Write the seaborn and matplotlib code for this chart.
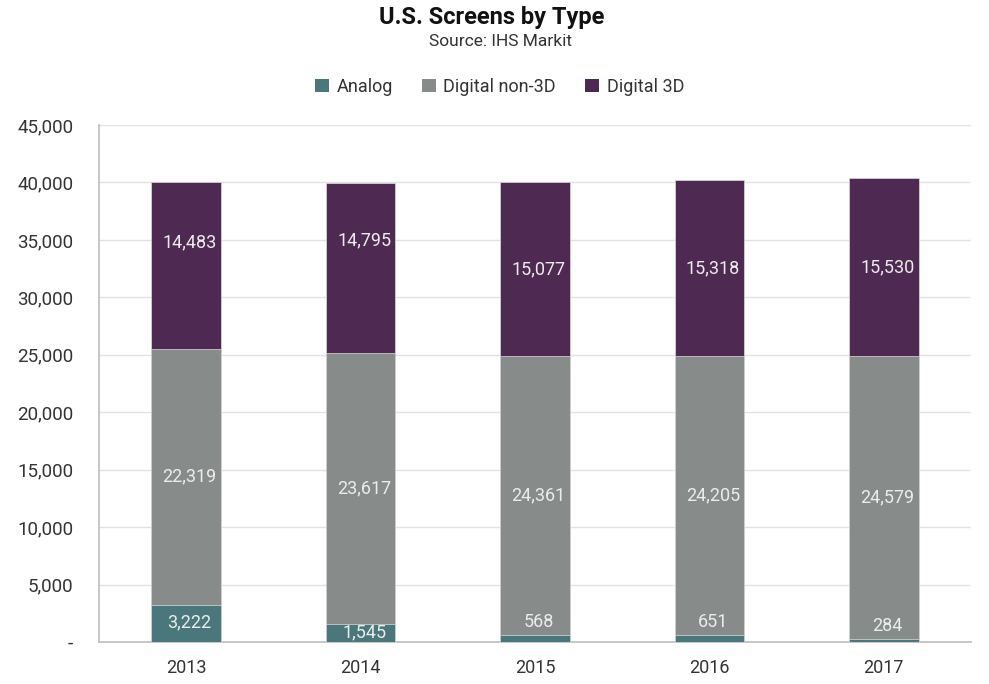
import matplotlib
matplotlib.use("Agg")
import matplotlib.pyplot as plt
import seaborn as sns
import pandas as pd
import numpy as np
from matplotlib.ticker import FuncFormatter, FixedLocator
from matplotlib.patches import Patch

years = ["2013", "2014", "2015", "2016", "2017"]
analog = [3222, 1545, 568, 651, 284]
digital_non3d = [22319, 23617, 24361, 24205, 24579]
digital_3d = [14483, 14795, 15077, 15318, 15530]
series_names = ["Analog", "Digital non-3D", "Digital 3D"]
colors = ["#4A777B", "#878C8B", "#4E2A52"]

sns.set_theme(style="white")
plt.rcParams["font.family"] = ["Roboto", "DejaVu Sans"]

df = pd.DataFrame({
    "year": years,
    "analog": analog,
    "non3d": digital_non3d,
    "d3": digital_3d,
})
df["cum1"] = df["analog"]
df["cum2"] = df["analog"] + df["non3d"]
df["cum3"] = df["cum2"] + df["d3"]

fig = plt.figure(figsize=(9.89, 6.84), dpi=100)
ax = fig.add_axes([0.1001, 0.0614, 0.8817, 0.7559])

for col, c in zip(["cum3", "cum2", "cum1"], colors[::-1]):
    sns.barplot(data=df, x="year", y=col, color=c, width=0.4, ax=ax,
                edgecolor="#dcdcdc", linewidth=0.5, saturation=1, zorder=3)

ax.set_xlim(-0.5, 4.5)
ax.set_ylim(0, 45000)
ax.set_yticks(np.arange(0, 45001, 5000))
ax.yaxis.set_major_formatter(FuncFormatter(lambda v, p: "-" if v == 0 else f"{int(v):,}"))
ax.grid(axis="y", color="#e2e2e2", linewidth=1, zorder=0)
ax.set_axisbelow(True)
ax.set_xlabel("")
ax.set_ylabel("")
for s in ["top", "right"]:
    ax.spines[s].set_visible(False)
for s in ["left", "bottom"]:
    ax.spines[s].set_color("#bdbdbd")
    ax.spines[s].set_linewidth(1.2)
ax.tick_params(axis="y", which="major", length=5, color="#bdbdbd", width=1.2,
               labelsize=13.5, labelcolor="#333333", pad=13.5)
ax.tick_params(axis="x", which="major", length=0, labelsize=13, labelcolor="#333333", pad=12)
ax.xaxis.set_minor_locator(FixedLocator(np.arange(-0.5, 4.6, 1.0)))
ax.tick_params(axis="x", which="minor", length=6, color="#bdbdbd", width=1.2)

label_color = "#ececec"
purple_lift = [2000, 2400, 0, 0, 0]
for i in range(len(years)):
    a, g, d = analog[i], digital_non3d[i], digital_3d[i]
    if a >= 1000:
        ax.text(i + 0.02, a / 2 + 100, f"{a:,}", ha="center", va="center",
                color=label_color, fontsize=13, zorder=5)
    else:
        ax.text(i + 0.02, a + 350, f"{a:,}", ha="center", va="bottom",
                color=label_color, fontsize=13, zorder=5)
    ax.text(i + 0.02, a + g / 2, f"{g:,}", ha="center", va="center",
            color=label_color, fontsize=13, zorder=5)
    ax.text(i + 0.02, a + g + d / 2 + purple_lift[i], f"{d:,}", ha="center", va="center",
            color=label_color, fontsize=13, zorder=5)

fig.text(0.497, 0.974, "U.S. Screens by Type", ha="center", va="center",
         fontsize=17, fontweight="bold", color="#111111")
fig.text(0.506, 0.940, "Source: IHS Markit", ha="center", va="center",
         fontsize=12.5, color="#333333")

handles = [Patch(facecolor=c, edgecolor="none") for c in colors]
fig.legend(handles, series_names, loc="center", bbox_to_anchor=(0.505, 0.873),
           ncol=3, frameon=False, fontsize=13, handlelength=0.8, handleheight=0.8,
           handletextpad=0.4, columnspacing=1.6, labelcolor="#333333")

fig.savefig("out.png", dpi=100)
